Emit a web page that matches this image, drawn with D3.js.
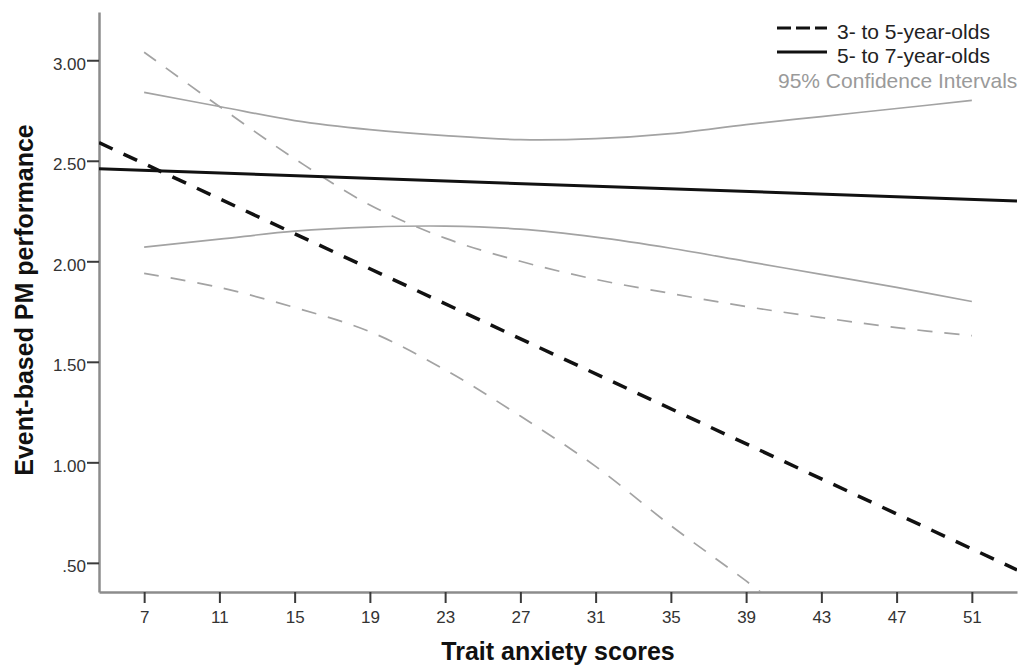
<!DOCTYPE html>
<html>
<head>
<meta charset="utf-8">
<script src="https://cdn.jsdelivr.net/npm/d3@7"></script>
<style>
    body { margin: 0; background: #fff; }
    svg { display: block; font-family: Arial, "Liberation Sans", sans-serif; }
</style>
</head>
<body>
<div id="chart"></div>
<script>
// Trait anxiety vs event-based PM performance, fit lines + 95% CIs by age group

const xTicks = [7, 11, 15, 19, 23, 27, 31, 35, 39, 43, 47, 51];
const yTicks = [0.5, 1.0, 1.5, 2.0, 2.5, 3.0];
const yTickLabels = ['.50', '1.00', '1.50', '2.00', '2.50', '3.00'];

// fit lines span the whole x range
const fitX = [4.6, 53.4];
const youngerFit = [2.59, 0.465];
const olderFit = [2.46, 2.30];

// confidence bands, read at the tick positions
const ciX = [7, 11, 15, 19, 23, 27, 31, 35, 39, 43, 47, 51];
const youngerUpper = [3.04, 2.77, 2.51, 2.28, 2.115, 2.0, 1.91, 1.84, 1.775, 1.72, 1.67, 1.63];
const youngerLower = [1.94, 1.87, 1.77, 1.65, 1.46, 1.23, 0.98, 0.685, 0.41, 0.12, null, null];
const olderUpper = [2.84, 2.77, 2.70, 2.655, 2.625, 2.605, 2.61, 2.635, 2.68, 2.72, 2.76, 2.80];
const olderLower = [2.07, 2.11, 2.15, 2.17, 2.175, 2.16, 2.12, 2.065, 2.0, 1.935, 1.87, 1.80];

const legendItems = [
    { label: '3- to 5-year-olds', dash: '14,5' },
    { label: '5- to 7-year-olds', dash: null }
];

const width = 1028;
const height = 666;
const margin = { top: 12, right: 11, bottom: 74, left: 99 };
const chartWidth = width - margin.left - margin.right;
const chartHeight = height - margin.top - margin.bottom;

const svg = d3.select('#chart')
    .append('svg')
    .attr('width', width)
    .attr('height', height);

const g = svg.append('g')
    .attr('transform', `translate(${margin.left},${margin.top})`);

const xScale = d3.scaleLinear()
    .domain(fitX)
    .range([0, chartWidth]);

const yScale = d3.scaleLinear()
    .domain([0.355, 3.24])
    .range([chartHeight, 0]);

svg.append('defs')
    .append('clipPath')
    .attr('id', 'plotClip')
    .append('rect')
    .attr('width', chartWidth)
    .attr('height', chartHeight);

// Axes
const xAxis = g.append('g')
    .attr('transform', `translate(0,${chartHeight})`)
    .call(d3.axisBottom(xScale)
        .tickValues(xTicks)
        .tickSize(11)
        .tickSizeOuter(0)
        .tickFormat(d3.format('d')));

const yAxis = g.append('g')
    .call(d3.axisLeft(yScale)
        .tickValues(yTicks)
        .tickSize(12)
        .tickSizeOuter(0)
        .tickFormat((d, i) => yTickLabels[i]));

[xAxis, yAxis].forEach(ax => {
    ax.select('.domain')
        .attr('stroke', '#8c8c8c')
        .attr('stroke-width', 2.5);
    ax.selectAll('.tick line')
        .attr('stroke', '#3a3a3a')
        .attr('stroke-width', 2);
    ax.selectAll('.tick text')
        .attr('fill', '#333')
        .style('font-size', '17px');
});

xAxis.selectAll('.tick text')
    .attr('y', 31)
    .attr('dy', 0);

yAxis.selectAll('.tick text')
    .attr('x', -13)
    .attr('dy', 9);

// Axis titles
svg.append('text')
    .attr('x', 558)
    .attr('y', 660)
    .attr('fill', '#111')
    .style('text-anchor', 'middle')
    .style('font-size', '25px')
    .style('font-weight', 'bold')
    .text('Trait anxiety scores');

svg.append('text')
    .attr('transform', 'translate(33,300) rotate(-90)')
    .attr('fill', '#111')
    .style('text-anchor', 'middle')
    .style('font-size', '25px')
    .style('font-weight', 'bold')
    .text('Event-based PM performance');

// Lines
const plot = g.append('g').attr('clip-path', 'url(#plotClip)');

const curve = d3.line()
    .defined(d => d[1] !== null)
    .x(d => xScale(d[0]))
    .y(d => yScale(d[1]))
    .curve(d3.curveCatmullRom);

const bands = [
    { values: youngerUpper, dash: '15,12' },
    { values: youngerLower, dash: '15,12' },
    { values: olderUpper, dash: null },
    { values: olderLower, dash: null }
];

bands.forEach(b => {
    plot.append('path')
        .datum(ciX.map((x, i) => [x, b.values[i]]))
        .attr('d', curve)
        .attr('fill', 'none')
        .attr('stroke', '#a3a3a3')
        .attr('stroke-width', 1.7)
        .attr('stroke-dasharray', b.dash);
});

const fitLine = d3.line()
    .x(d => xScale(d[0]))
    .y(d => yScale(d[1]));

plot.append('path')
    .datum(fitX.map((x, i) => [x, olderFit[i]]))
    .attr('d', fitLine)
    .attr('fill', 'none')
    .attr('stroke', '#111')
    .attr('stroke-width', 3);

plot.append('path')
    .datum(fitX.map((x, i) => [x, youngerFit[i]]))
    .attr('d', fitLine)
    .attr('fill', 'none')
    .attr('stroke', '#111')
    .attr('stroke-width', 3.5)
    .attr('stroke-dasharray', '15,12');

// Legend
const legend = svg.append('g')
    .attr('transform', 'translate(777,28)');

legendItems.forEach((item, i) => {
    const row = legend.append('g')
        .attr('transform', `translate(0,${i * 24})`);
    row.append('line')
        .attr('x1', 0)
        .attr('x2', 50)
        .attr('stroke', '#111')
        .attr('stroke-width', 3)
        .attr('stroke-dasharray', item.dash);
    row.append('text')
        .attr('x', 60)
        .attr('y', 4)
        .attr('dy', '0.32em')
        .attr('fill', '#222')
        .style('font-size', '21px')
        .text(item.label);
});

legend.append('text')
    .attr('x', 1)
    .attr('y', 53)
    .attr('dy', '0.32em')
    .attr('fill', '#9a9a9a')
    .style('font-size', '21px')
    .text('95% Confidence Intervals');
</script>
</body>
</html>
